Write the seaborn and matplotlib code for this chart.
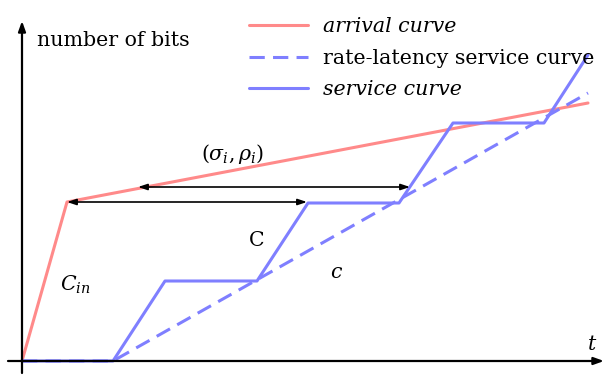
import matplotlib
matplotlib.use("Agg")
import matplotlib.pyplot as plt
import seaborn as sns
import pandas as pd

# ---- data (time units vs. bits) ----
arrival_t = [0, 45, 566]
arrival_bits = [0, 159, 258]

rate_latency_t = [0, 91, 566]
rate_latency_bits = [0, 0, 268]

service_t = [0, 91, 143, 235, 286, 377, 431, 522, 566]
service_bits = [0, 0, 80, 80, 158, 158, 238, 238, 306]

legend_labels = ["arrival curve", "rate-latency service curve", "service curve"]

RED = "#ff8a8a"
BLUE = "#7f7fff"

sns.set_theme(style="white")
plt.rcParams["font.family"] = ["DejaVu Serif"]
plt.rcParams["mathtext.fontset"] = "dejavuserif"
plt.rcParams["text.color"] = "black"

fig = plt.figure(figsize=(6.04, 3.76), dpi=100)
ax = fig.add_axes([0, 0, 1, 1])
ax.set_xlim(-22, 582)
ax.set_ylim(-15, 361)
ax.axis("off")

df_a = pd.DataFrame({"t": arrival_t, "bits": arrival_bits})
df_r = pd.DataFrame({"t": rate_latency_t, "bits": rate_latency_bits})
df_s = pd.DataFrame({"t": service_t, "bits": service_bits})

sns.lineplot(data=df_a, x="t", y="bits", ax=ax, color=RED, lw=2.2,
             sort=False, estimator=None, label=legend_labels[0])
sns.lineplot(data=df_r, x="t", y="bits", ax=ax, color=BLUE, lw=2.2,
             sort=False, estimator=None, label=legend_labels[1],
             linestyle=(0, (5, 2.7)))
sns.lineplot(data=df_s, x="t", y="bits", ax=ax, color=BLUE, lw=2.2,
             sort=False, estimator=None, label=legend_labels[2])

# axes with arrows
ax.annotate("", xy=(582, 0), xytext=(-14, 0),
            arrowprops=dict(arrowstyle="-|>,head_length=0.5,head_width=0.18",
                            lw=1.6, color="black", shrinkA=0, shrinkB=0),
            annotation_clip=False)
ax.annotate("", xy=(0, 340), xytext=(0, -12),
            arrowprops=dict(arrowstyle="-|>,head_length=0.5,head_width=0.18",
                            lw=1.6, color="black", shrinkA=0, shrinkB=0),
            annotation_clip=False)

# double arrows
for (x0, x1, y) in [(45, 285, 159), (116, 388, 174)]:
    ax.annotate("", xy=(x1, y), xytext=(x0, y),
                arrowprops=dict(arrowstyle="<|-|>,head_length=0.45,head_width=0.15",
                                lw=1.2, color="black", shrinkA=0, shrinkB=0))

fs = 14.8
ax.text(15, 321, "number of bits", fontsize=fs, va="center", ha="left")
ax.text(211, 207, r"$(\sigma_i, \rho_i)$", fontsize=fs, ha="center", va="center")
ax.text(234, 121, r"$\mathrm{C}$", fontsize=fs, ha="center", va="center")
ax.text(53, 76, r"$C_{in}$", fontsize=fs, ha="center", va="center")
ax.text(315, 89, r"$c$", fontsize=fs, ha="center", va="center")
ax.text(570, 16, r"$t$", fontsize=fs, ha="center", va="center")

leg = ax.legend(loc="upper left", bbox_to_anchor=(249 / 604, 1 - 17 / 376),
                frameon=False, fontsize=fs, handlelength=2.88,
                handletextpad=0.72, labelspacing=0.62,
                borderpad=0, borderaxespad=0)
texts = leg.get_texts()
texts[0].set_fontstyle("italic")
texts[2].set_fontstyle("italic")

fig.savefig("out.png", dpi=100)
